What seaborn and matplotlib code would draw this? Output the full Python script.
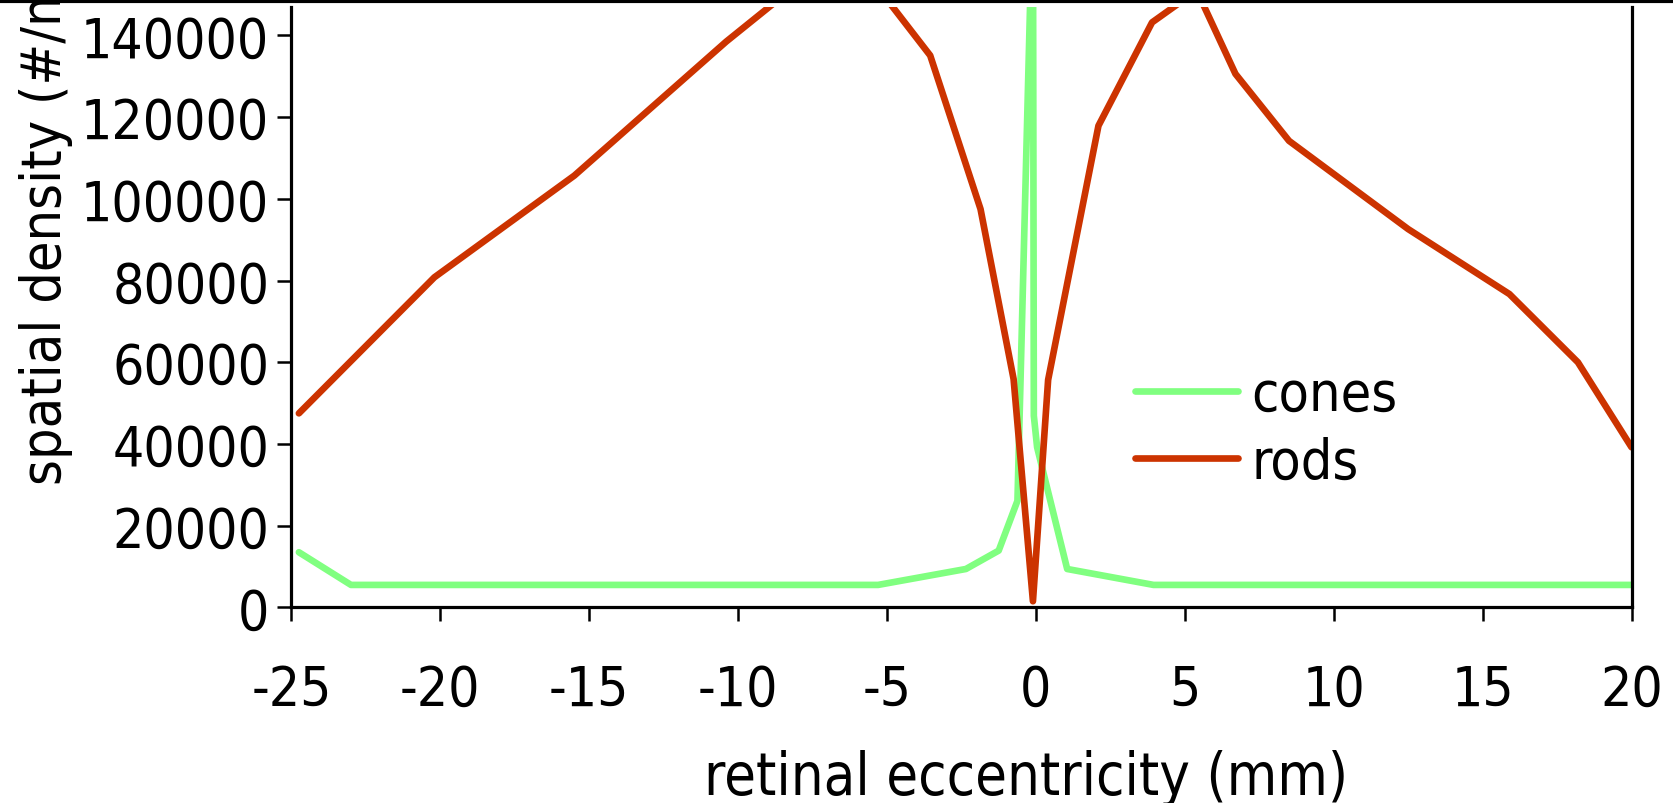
import pandas as pd
import matplotlib
matplotlib.use('Agg')
import matplotlib.pyplot as plt
import seaborn as sns
from matplotlib.lines import Line2D

# retinal eccentricity (mm) and density
cone_x = [-24.75, -23.0, -5.3, -2.35, -1.25, -0.62, -0.1, -0.07, 0.04, 1.05, 3.95, 20.0]
cone_y = [13500, 5500, 5500, 9400, 13900, 26100, 175000, 46900, 39200, 9400, 5500, 5500]

rod_x = [-24.75, -20.2, -15.5, -10.4, -6.4, -3.55, -1.86, -0.75, -0.1, 0.41,
         2.1, 3.9, 5.4, 6.7, 8.5, 12.5, 15.9, 18.2, 20.0]
rod_y = [47500, 80800, 105700, 138500, 162000, 135100, 97500, 55900, 1500, 55700,
         117900, 143200, 151000, 130600, 114200, 92600, 76700, 60000, 39200]

x_ticks = [-25, -20, -15, -10, -5, 0, 5, 10, 15, 20]
y_ticks = [0, 20000, 40000, 60000, 80000, 100000, 120000, 140000]

CONE_COLOR = '#80ff80'
ROD_COLOR = '#cc3300'

sns.set_style('ticks')
plt.rcParams['font.family'] = ['DejaVu Sans']
plt.rcParams['font.stretch'] = 'condensed'
plt.rcParams['text.color'] = 'black'

cones = pd.DataFrame({'ecc': cone_x, 'density': cone_y})
rods = pd.DataFrame({'ecc': rod_x, 'density': rod_y})

fig = plt.figure(figsize=(16.73, 8.04), dpi=100)
ax = fig.add_axes([0.1742, 0.2433, 0.9752 - 0.1742, 0.9897 - 0.2433])

sns.lineplot(data=cones, x='ecc', y='density', ax=ax, color=CONE_COLOR, lw=4.8,
             estimator=None, sort=False, label='cones')
sns.lineplot(data=rods, x='ecc', y='density', ax=ax, color=ROD_COLOR, lw=4.8,
             estimator=None, sort=False, label='rods')

ax.set_xlim(-25, 20)
ax.set_ylim(0, 146900)
ax.set_xticks(x_ticks)
ax.set_xticklabels([str(t) for t in x_ticks])
ax.set_yticks(y_ticks)
ax.set_yticklabels([str(t) for t in y_ticks])
ax.set_xlabel('')
ax.set_ylabel('')

for side in ['left', 'right', 'bottom']:
    ax.spines[side].set_linewidth(2.3)
    ax.spines[side].set_color('black')
ax.spines['top'].set_visible(False)

ax.tick_params(axis='both', direction='out', length=10, width=1.8, labelsize=39.5,
               colors='black', labelcolor='black')
ax.tick_params(axis='x', pad=30)
ax.tick_params(axis='y', pad=6)

ax.legend(loc='center left', bbox_to_anchor=((1135 - 291.5) / 1340, (608.4 - 430) / 600.1),
          frameon=False, fontsize=40, handlelength=1.85, handletextpad=0.25,
          labelspacing=0.25, borderpad=0, borderaxespad=0, labelcolor='black')

fig.text(0.0114, 1 - 485.5 / 804, 'spatial density (#/mm²)', rotation=90,
         ha='left', va='bottom', fontsize=40, color='black')
fig.text(1026 / 1673, 1 - 750 / 804, 'retinal eccentricity (mm)',
         ha='center', va='top', fontsize=41.5, color='black')

# black rule along the top edge of the picture
fig.add_artist(Line2D([0, 1], [1 - 2 / 804, 1 - 2 / 804], transform=fig.transFigure,
                      color='black', lw=3))

fig.savefig('out.png', dpi=100)
